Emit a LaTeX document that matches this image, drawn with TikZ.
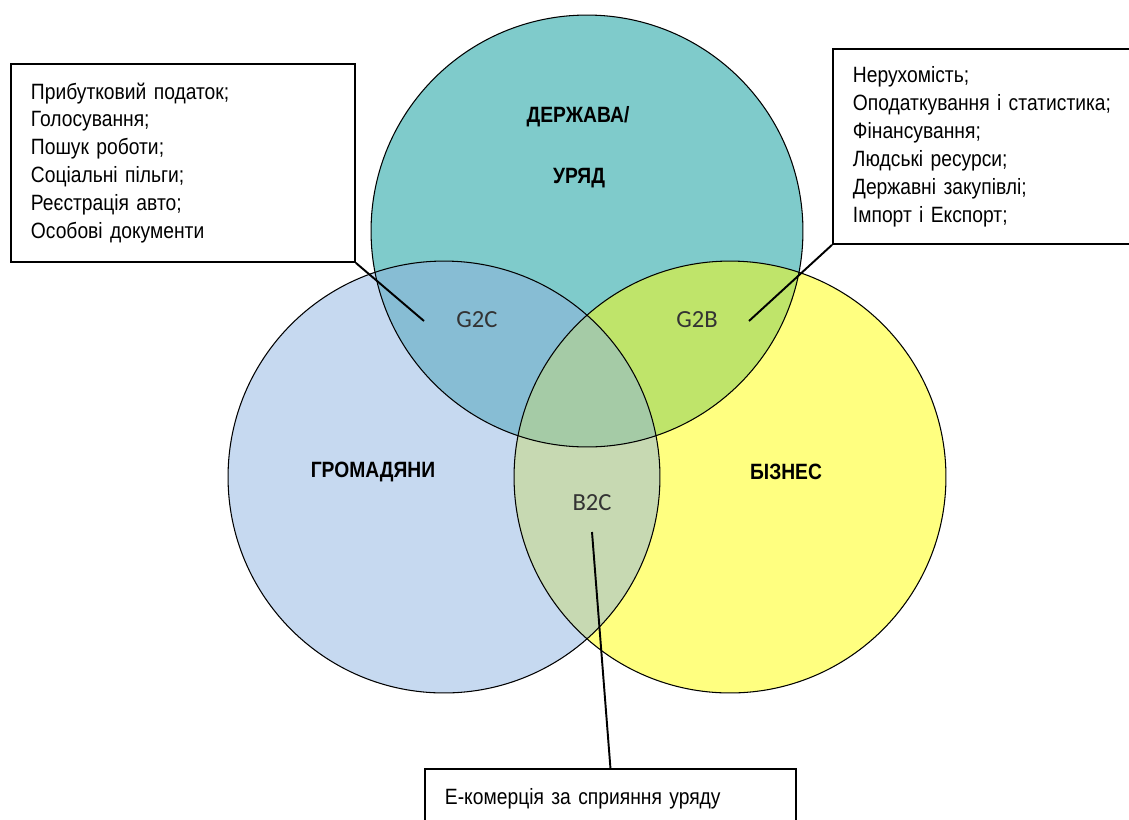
\documentclass[tikz,border=0pt]{standalone}
\usepackage{fontspec}
\setmainfont{Liberation Sans}[FakeStretch=0.87]
\newfontfamily\pairfont{Carlito}
\usetikzlibrary{calc}

\definecolor{govteal}{RGB}{127,203,203}
\definecolor{citblue}{RGB}{198,217,240}
\definecolor{bizyellow}{RGB}{255,255,128}
\definecolor{gtwocmix}{RGB}{135,189,212}
\definecolor{gtwobmix}{RGB}{191,228,106}
\definecolor{midmix}{RGB}{165,203,166}
\definecolor{btwocmix}{RGB}{199,217,178}

\tikzset{
  ringoutline/.style={draw=black, line width=0.6pt},
  infobox/.style={draw=black, line width=1.1pt, fill=white, anchor=north west,
    align=left, inner xsep=0.4cm, inner ysep=0pt,
    font=\fontsize{12.6}{15.9}\selectfont},
  leader/.style={draw=black, line width=1.1pt},
  ringlabel/.style={font=\fontsize{12.6}{14}\selectfont\bfseries},
  pairlabel/.style={font=\fontsize{14}{16}\selectfont\pairfont, text=black!80}
}

\begin{document}
\begin{tikzpicture}[x=0.02cm,y=-0.02cm]

  % --- frame ---
  \useasboundingbox (0,0) rectangle (1129,819);
  \clip (0,0) rectangle (1129,819);

  % --- circle centres ---
  \coordinate (gov) at (587,231);
  \coordinate (cit) at (444,477);
  \coordinate (biz) at (730,477);

  % =========================
  %  FILLED RINGS
  % =========================

  \fill[govteal] (gov) circle[radius=4.32cm];
  \fill[citblue] (cit) circle[radius=4.32cm];
  \fill[bizyellow] (biz) circle[radius=4.32cm];

  \begin{scope}
    \clip (gov) circle[radius=4.32cm];
    \fill[gtwocmix] (cit) circle[radius=4.32cm];
    \fill[gtwobmix] (biz) circle[radius=4.32cm];
  \end{scope}
  \begin{scope}
    \clip (cit) circle[radius=4.32cm];
    \fill[btwocmix] (biz) circle[radius=4.32cm];
    \clip (biz) circle[radius=4.32cm];
    \fill[midmix] (gov) circle[radius=4.32cm];
  \end{scope}

  \draw[ringoutline] (gov) circle[radius=4.32cm];
  \draw[ringoutline] (cit) circle[radius=4.32cm];
  \draw[ringoutline] (biz) circle[radius=4.32cm];

  % --- ring labels ---
  \node[ringlabel] (govtop) at (578,117) {ДЕРЖАВА/};
  \node[ringlabel] (govbot) at (579,178) {УРЯД};
  \node[ringlabel] (citlbl) at (373,472) {ГРОМАДЯНИ};
  \node[ringlabel] (bizlbl) at (786,472) {БІЗНЕС};

  \node[pairlabel] (gtwoc) at (477,320) {G2C};
  \node[pairlabel] (gtwob) at (697,320) {G2B};
  \node[pairlabel] (btwoc) at (592,503) {B2C};

  % =========================
  %  CALLOUT BOXES
  % =========================

  \node[infobox, text width=6.08cm, minimum height=3.96cm] (citbox) at (10,63)
    {Прибутковий податок;\\
     Голосування;\\
     Пошук роботи;\\
     Соціальні пільги;\\
     Реєстрація авто;\\
     Особові документи};

  \node[infobox, text width=5.36cm, minimum height=3.9cm] (bizbox) at (832,48)
    {Нерухомість;\\
     Оподаткування і статистика;\\
     Фінансування;\\
     Людські ресурси;\\
     Державні закупівлі;\\
     Імпорт і Експорт;};

  \node[infobox, text width=6.62cm, minimum height=1.2cm] (ecombox) at (424,768)
    {Е-комерція за сприяння уряду};

  % --- leaders ---
  \coordinate (gtwocpt) at (424,321);
  \coordinate (gtwobpt) at (749,321);
  \coordinate (btwocpt) at (592,532);

  \draw[leader] (citbox.south east) -- (gtwocpt);
  \draw[leader] (bizbox.south west) -- (gtwobpt);
  \draw[leader] (btwocpt) -- (ecombox.north);

\end{tikzpicture}
\end{document}
